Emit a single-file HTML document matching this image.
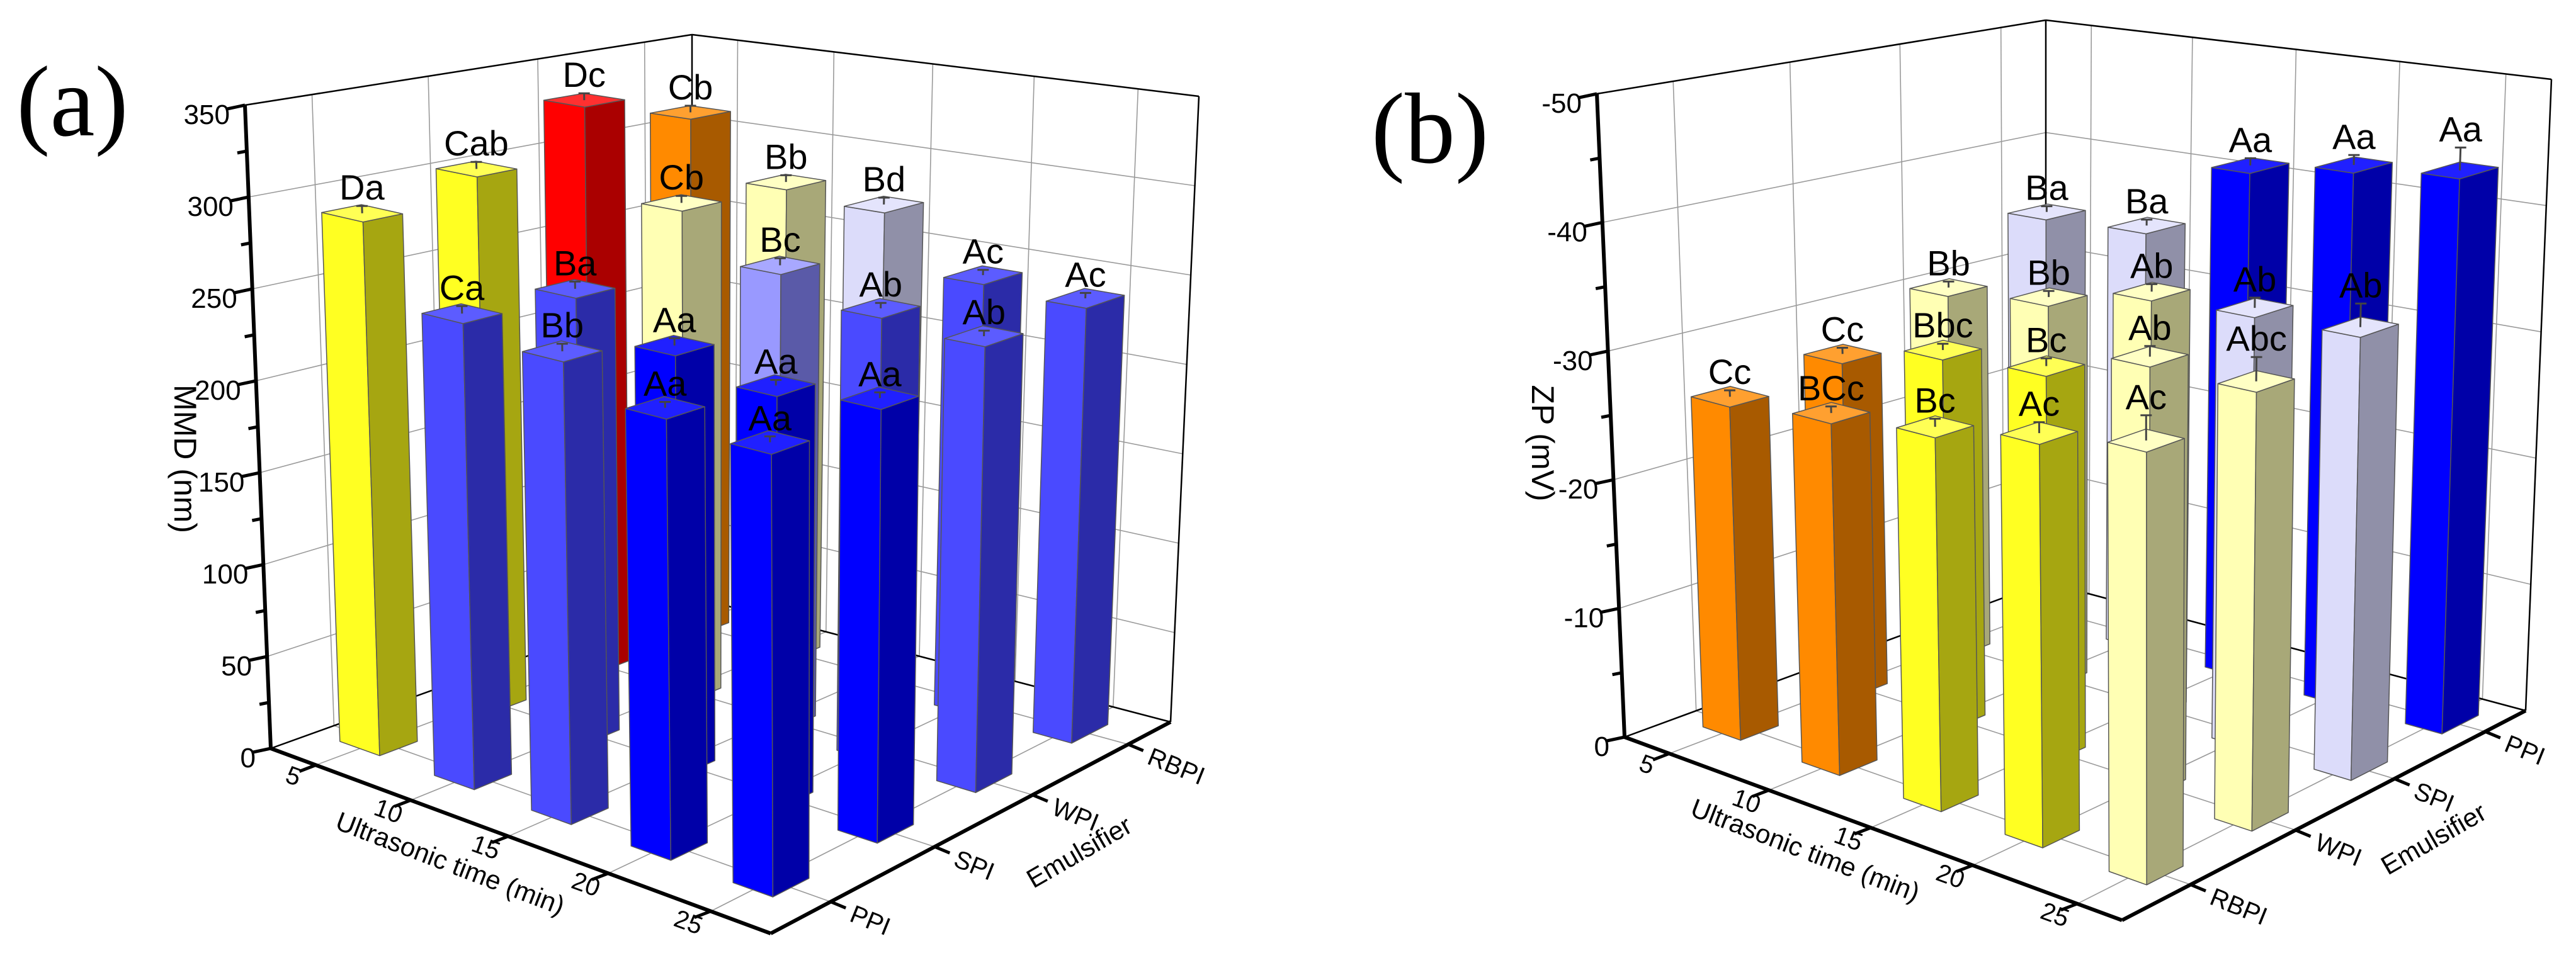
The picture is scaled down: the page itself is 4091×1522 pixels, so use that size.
<!DOCTYPE html>
<html><head><meta charset="utf-8"><style>
html,body{margin:0;padding:0;background:#fff;}
svg{display:block;font-family:"Liberation Sans",Arial,sans-serif;}
</style></head><body>
<svg id="fig" xmlns="http://www.w3.org/2000/svg" width="4091" height="1522" viewBox="0 0 4091 1522">
<rect width="4091" height="1522" fill="#fff"/>
<text x="115" y="215" font-family="Liberation Serif, serif" font-size="160" text-anchor="middle">(a)</text>
<text x="2271" y="258" font-family="Liberation Serif, serif" font-size="160" text-anchor="middle">(b)</text>
</svg>
<script>
// ---------- Panel (a): MMD data ----------
const mmdTimes = [5, 10, 15, 20, 25];
const mmdEmulsifiers = ['PPI', 'SPI', 'WPI', 'RBPI'];
const mmdTicks = [0, 50, 100, 150, 200, 250, 300, 350];
const mmdPPI  = [290, 248, 241, 225, 221];
const mmdSPI  = [302, 246, 227, 218, 224];
const mmdWPI  = [330, 280, 255, 242, 238];
const mmdRBPI = [311, 278, 274, 243, 240];
const mmdLabPPI  = ['Da', 'Ca', 'Bb', 'Aa', 'Aa'];
const mmdLabSPI  = ['Cab', 'Ba', 'Aa', 'Aa', 'Aa'];
const mmdLabWPI  = ['Dc', 'Cb', 'Bc', 'Ab', 'Ab'];
const mmdLabRBPI = ['Cb', 'Bb', 'Bd', 'Ac', 'Ac'];
const mmdErr = [4, 4, 4, 3, 3];

// ---------- Panel (b): ZP data ----------
const zpTimes = [5, 10, 15, 20, 25];
const zpEmulsifiers = ['RBPI', 'WPI', 'SPI', 'PPI'];
const zpTicks = [0, -10, -20, -30, -40, -50];
const zpRBPI = [-25.9, -26.7, -27.7, -29.2, -30.6];
const zpWPI  = [-26.9, -29.1, -29.7, -32.2, -32.1];
const zpSPI  = [-30.1, -31.0, -33.1, -33.4, -33.5];
const zpPPI  = [-34.5, -34.8, -41.2, -42.5, -43.3];
const zpLabRBPI = ['Cc', 'BCc', 'Bc', 'Ac', 'Ac'];
const zpLabWPI  = ['Cc', 'Bbc', 'Bc', 'Ab', 'Abc'];
const zpLabSPI  = ['Bb', 'Bb', 'Ab', 'Ab', 'Ab'];
const zpLabPPI  = ['Ba', 'Ba', 'Aa', 'Aa', 'Aa'];
const zpErr = [0.5, 0.5, 0.6, 0.8, 1.8];

const NS = 'http://www.w3.org/2000/svg';
const svg = document.getElementById('fig');

const PAL = {
  B:['#0000ff','#0000a8','#2020ff'], M:['#4a4aff','#2b2ba8','#5c5cff'],
  LB:['#9999ff','#5a5aa8','#a8a8ff'], LAV:['#dcdcfa','#9090a8','#e4e4fc'],
  LY:['#ffffb4','#a8a878','#ffffc4'], Y:['#ffff22','#a6a611','#ffff55'],
  O:['#ff8a00','#a85a00','#ffa030'], R:['#ff0000','#aa0000','#ff3030']
};
function colA(v){ if(v<232)return PAL.B; if(v<250)return PAL.M; if(v<265)return PAL.LB; if(v<276)return PAL.LAV; if(v<285)return PAL.LY; if(v<308)return PAL.Y; if(v<320)return PAL.O; return PAL.R; }
function colB(v){ if(v<=-40)return PAL.B; if(v<=-33.25)return PAL.LAV; if(v<=-30)return PAL.LY; if(v<=-27.2)return PAL.Y; return PAL.O; }

const cfgA = {O:[430,1189],A:[1224,1483],B:[1859,1147],C:[1099,948],
  Ot:[389,167],At:[1218,345],Bt:[1904,153],Ct:[1099,55],
  u:[0.09,0.28,0.475,0.675,0.88], v:[0.15,0.41,0.655,0.894], du:0.04, dv:0.045,
  zmax:350, ticks:mmdTicks, times:mmdTimes, emuls:mmdEmulsifiers,
  rows:[mmdPPI,mmdSPI,mmdWPI,mmdRBPI], labs:[mmdLabPPI,mmdLabSPI,mmdLabWPI,mmdLabRBPI], err:mmdErr,
  col:colA, title:'MMD (nm)', titlePos:[293,729], tTitle:[710,1371], eTitle:[1721,1352], name:'mmd'};
const cfgB = {O:[2580,1171],A:[3370,1462],B:[4011,1129],C:[3249,925],
  Ot:[2536,149],At:[3366,314],Bt:[4052,126],Ct:[3249,32],
  u:[0.09,0.29,0.495,0.70,0.91], v:[0.17,0.43,0.675,0.90], du:0.038, dv:0.045,
  zmax:-50, ticks:zpTicks, times:zpTimes, emuls:zpEmulsifiers,
  rows:[zpRBPI,zpWPI,zpSPI,zpPPI], labs:[zpLabRBPI,zpLabWPI,zpLabSPI,zpLabPPI], err:zpErr,
  col:colB, title:'ZP (mV)', titlePos:[2449,704], tTitle:[2862,1350], eTitle:[3872,1331], name:'zp'};

function bil(c,k,u,v){
  const O=c[k==='b'?'O':'Ot'],A=c[k==='b'?'A':'At'],B=c[k==='b'?'B':'Bt'],C=c[k==='b'?'C':'Ct'];
  return [O[0]*(1-u)*(1-v)+A[0]*u*(1-v)+B[0]*u*v+C[0]*(1-u)*v,
          O[1]*(1-u)*(1-v)+A[1]*u*(1-v)+B[1]*u*v+C[1]*(1-u)*v];
}
function P(c,u,v,w){ const b=bil(c,'b',u,v), t=bil(c,'t',u,v); return [b[0]+w*(t[0]-b[0]), b[1]+w*(t[1]-b[1])]; }
function zw(c,val){ return val/c.zmax; }

function line(g,p,q,stroke,sw){
  const l=document.createElementNS(NS,'line');
  l.setAttribute('x1',p[0].toFixed(1));l.setAttribute('y1',p[1].toFixed(1));
  l.setAttribute('x2',q[0].toFixed(1));l.setAttribute('y2',q[1].toFixed(1));
  l.setAttribute('stroke',stroke);l.setAttribute('stroke-width',sw);
  g.appendChild(l); return l;
}
function poly(g,pts,fill){
  const p=document.createElementNS(NS,'polygon');
  p.setAttribute('points',pts.map(q=>q[0].toFixed(1)+','+q[1].toFixed(1)).join(' '));
  p.setAttribute('fill',fill);p.setAttribute('stroke','#555');p.setAttribute('stroke-width','1.5');
  p.setAttribute('stroke-linejoin','round');
  g.appendChild(p); return p;
}
function text(g,x,y,s,size,anchor,rot){
  const t=document.createElementNS(NS,'text');
  t.setAttribute('x',x.toFixed(1));t.setAttribute('y',y.toFixed(1));
  t.setAttribute('font-size',size);t.setAttribute('text-anchor',anchor||'middle');
  if(rot) t.setAttribute('transform','rotate('+rot+' '+x.toFixed(1)+' '+y.toFixed(1)+')');
  t.textContent=s; g.appendChild(t); return t;
}

function drawPanel(c){
  const g=document.createElementNS(NS,'g');
  
  
  svg.appendChild(g);
  const grid='#9a9a9a';
  c.ticks.forEach(tv=>{
    const w=zw(c,tv);
    const l1=line(g,P(c,0,0,w),P(c,0,1,w),grid,1.6);
    
    
    const l2=line(g,P(c,0,1,w),P(c,1,1,w),grid,1.6);
    
    
  });
  c.v.forEach(v=>{
    const l=line(g,P(c,0,v,0),P(c,0,v,1),grid,1.6);
    
    
    const f=line(g,P(c,0,v,0),P(c,1,v,0),grid,1.6);
    
    
  });
  c.u.forEach(u=>{
    const l=line(g,P(c,u,1,0),P(c,u,1,1),grid,1.6);
    
    
    const f=line(g,P(c,u,0,0),P(c,u,1,0),grid,1.6);
    
    
  });
  [[[0,1,0],[0,1,1]],[[1,1,0],[1,1,1]],[[0,0,1],[0,1,1]],[[0,1,1],[1,1,1]],[[0,0,0],[0,1,0]],[[0,1,0],[1,1,0]]].forEach(e=>{
    const l=line(g,P(c,...e[0]),P(c,...e[1]),'#000',2.5);
    
    
  });
  const zAx=line(g,P(c,0,0,0),P(c,0,0,1),'#000',6);
  
  
  const tAx=line(g,P(c,0,0,0),P(c,1,0,0),'#000',6);
  
  
  const eAx=line(g,P(c,1,0,0),P(c,1,1,0),'#000',6);
  
  
  c.ticks.forEach((tv,k)=>{
    const p=P(c,0,0,zw(c,tv));
    const tk=line(g,p,[p[0]-28,p[1]+6],'#000',5);
    
    
    const t=text(g,p[0]-24,p[1]+30,String(tv),44,'end');
    
    
    if(k<c.ticks.length-1){
      const q=P(c,0,0,zw(c,(tv+c.ticks[k+1])/2));
      const mk=line(g,q,[q[0]-15,q[1]+3],'#000',5);
      
      
    }
  });
  c.times.forEach((tv,i)=>{
    const p=P(c,c.u[i],0,0);
    const tk=line(g,p,[p[0]-26,p[1]+10],'#000',5);
    
    
    const t=text(g,p[0]-40,p[1]+30,String(tv),40,'middle',20);
    
    
  });
  c.emuls.forEach((ev,j)=>{
    const p=P(c,1,c.v[j],0);
    const tk=line(g,p,[p[0]+24,p[1]+10],'#000',5);
    
    
    const t=text(g,p[0]+28,p[1]+30,ev,40,'start',22);
    
    
  });
  const zt=text(g,c.titlePos[0],c.titlePos[1],c.title,50,'middle',90);
  zt.setAttribute('dy','16');
  
  
  const tt=text(g,c.tTitle[0],c.tTitle[1]+14,'Ultrasonic time (min)',42,'middle',21);
  
  
  const et=text(g,c.eTitle[0],c.eTitle[1]+14,'Emulsifier',42,'middle',-30);
  
  

  const order=[];
  c.rows.forEach((row,j)=>row.forEach((val,i)=>order.push([i,j])));
  order.sort((a,b)=>((1-c.u[b[0]])+c.v[b[1]])-((1-c.u[a[0]])+c.v[a[1]]));
  const labelLayer=[];
  order.forEach(([i,j])=>{
    const val=c.rows[j][i], w=zw(c,val), cols=c.col(val);
    const u0=c.u[i]-c.du,u1=c.u[i]+c.du,v0=c.v[j]-c.dv,v1=c.v[j]+c.dv;
    const bg=document.createElementNS(NS,'g');
    
    
    g.appendChild(bg);
    const fr=poly(bg,[P(c,u0,v0,0),P(c,u1,v0,0),P(c,u1,v0,w),P(c,u0,v0,w)],cols[0]);
    
    
    const sd=poly(bg,[P(c,u1,v0,0),P(c,u1,v1,0),P(c,u1,v1,w),P(c,u1,v0,w)],cols[1]);
    
    
    const tp=poly(bg,[P(c,u0,v0,w),P(c,u1,v0,w),P(c,u1,v1,w),P(c,u0,v1,w)],cols[2]);
    
    
    const top=P(c,c.u[i],c.v[j],w);
    const tipW=zw(c,val+Math.sign(c.zmax)*c.err[i]);
    const tip=P(c,c.u[i],c.v[j],tipW);
    const eb=line(bg,top,tip,'#444',3);
    
    
    const cap=line(bg,[tip[0]-9,tip[1]],[tip[0]+9,tip[1]],'#444',3);
    
    
    labelLayer.push([tip[0],Math.min(tip[1],top[1])-10,c.labs[j][i]]);
  });
  labelLayer.forEach(l=>{
    const t=text(g,l[0],l[1],l[2],56,'middle');
    
    
  });
}
drawPanel(cfgA);
drawPanel(cfgB);
</script>
</body></html>
